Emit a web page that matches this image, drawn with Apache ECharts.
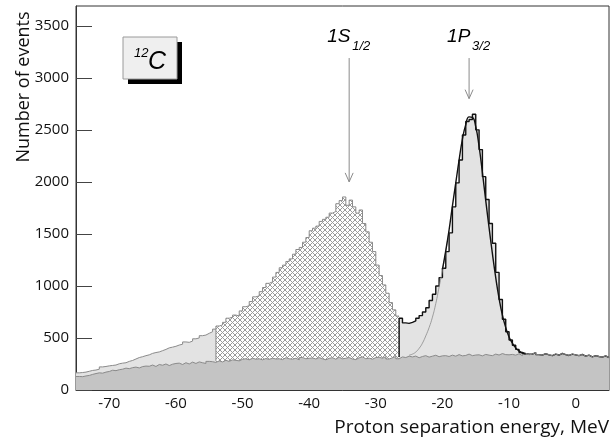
<!DOCTYPE html>
<html>
<head>
<meta charset="utf-8">
<script src="https://cdn.jsdelivr.net/npm/echarts@6.0.0/dist/echarts.min.js"></script>
<style>html,body{margin:0;padding:0;background:#fff}</style>
</head>
<body>
<div id="chart" style="width:612px;height:441px;"></div>
<script>
// histogram bins: 0.5 MeV wide, first bin starts at -75 MeV
const binLow = -75;
const binWidth = 0.5;

// background (dark grey), 160 bins from -75 to 5
const bgCounts = [
  130,128,135,140,150,158,165,162,172,178,
  190,186,195,200,210,205,215,220,212,225,
  230,228,240,226,245,238,250,235,248,255,
  258,245,262,250,268,255,270,262,255,275,
  272,265,280,270,285,275,290,285,280,295,
  300,290,305,296,300,290,302,295,305,298,
  300,292,310,300,296,305,290,312,300,305,
  308,298,312,300,290,305,310,296,315,300,
  305,312,298,292,310,318,300,306,296,312,
  315,305,320,298,310,322,300,318,312,325,
  318,326,310,322,330,316,325,334,320,328,
  330,322,335,325,340,328,332,345,330,336,
  338,328,342,335,330,345,336,350,340,338,
  342,335,348,330,352,338,345,360,340,335,
  350,338,330,345,336,352,340,332,345,338,
  330,342,325,335,318,330,322,316,328,312
];

// total spectrum, left part -75 .. -54 (light grey)
const totalLeft = [
  165,168,172,180,188,192,200,222,226,232,
  236,240,252,258,262,275,284,298,312,320,
  330,338,352,360,366,378,390,405,412,420,
  432,440,462,458,470,492,500,522,528,545,
  560,585
];
// total spectrum, -54 .. -26.5 (hatched, 1S region)
const totalMid = [
  615,625,650,690,700,720,712,760,800,810,
  850,895,905,945,985,1025,1040,1085,1130,1175,
  1200,1235,1260,1305,1350,1370,1420,1465,1530,1555,
  1575,1620,1640,1660,1700,1715,1790,1820,1855,1775,
  1825,1760,1700,1730,1600,1520,1420,1330,1200,1100,
  1010,930,840,770,710
];
// total spectrum, -26.5 .. 5 (light grey, black outline)
const totalRight = [
  690,645,640,650,665,690,715,750,790,860,
  920,1000,1080,1170,1330,1510,1760,1990,2210,2450,
  2580,2600,2650,2500,2310,2050,1830,1600,1410,1130,
  870,680,560,480,430,390,360,350,345,
  345,360,340,335,
  350,338,330,345,336,352,340,332,345,338,
  330,342,325,335,318,330,322,316,328,312
];

// fit curves
const p32FitE = [-25,-24.5,-24,-23.5,-23,-22.5,-22,-21.5,-21,-20.5,-20,-19.5,-19];
const p32Fit = [335,345,365,400,450,520,600,700,830,990,1150,1330,1530];
const sumFitE = [-20,-19.5,-19,-18.5,-18,-17.5,-17,-16.5,-16,-15.5,-15,-14.5,-14,-13.5,-13,
  -12.5,-12,-11.5,-11,-10.5,-10,-9.5,-9,-8.5,-8,-7.5];
const sumFit = [1160,1340,1540,1770,1990,2210,2410,2550,2625,2620,2530,2340,2090,1820,1560,
  1310,1080,880,720,600,510,450,405,375,355,345];

// shell labels and arrows
const shellNames = ['1S', '1P'];
const shellSubs = ['1/2', '3/2'];
const shellE = [-34, -16];
const arrowTop = [3190, 3190];
const arrowTip = [2000, 2800];

const yTicks = [0, 500, 1000, 1500, 2000, 2500, 3000, 3500];

function steps(counts, firstBin) {
  const pts = counts.map((v, i) => [binLow + (firstBin + i) * binWidth, v]);
  pts.push([binLow + (firstBin + counts.length) * binWidth, counts[counts.length - 1]]);
  return pts;
}

// cross-hatch tile
const tile = document.createElement('canvas');
tile.width = 5; tile.height = 5;
const tc = tile.getContext('2d');
tc.fillStyle = '#ffffff';
tc.fillRect(0, 0, 5, 5);
tc.fillStyle = '#9a9a9a';
for (let i = 0; i < 5; i++) {
  tc.fillRect(i, i, 1, 1);
  tc.fillRect(4 - i, i, 1, 1);
}

const leftStart = 0;
const midStart = totalLeft.length;
const rightStart = midStart + totalMid.length;

const leftData = steps(totalLeft, leftStart);
// start each region with a vertical edge up from the background level
const midData = [[binLow + midStart * binWidth, bgCounts[midStart]]].concat(steps(totalMid, midStart));
const rightData = [[binLow + rightStart * binWidth, bgCounts[rightStart]]].concat(steps(totalRight, rightStart));

const fontMain = '"Open Sans", "DejaVu Sans", sans-serif';

let myChart = echarts.init(document.getElementById('chart'));

var option = {
  animation: false,
  grid: {
    left: 76, right: 2, top: 6, bottom: 51,
    show: true, borderColor: '#333', borderWidth: 1
  },
  xAxis: {
    type: 'value',
    min: -75, max: 5,
    splitNumber: 8,
    splitLine: { show: false },
    axisLine: { lineStyle: { color: '#333' } },
    axisTick: { show: false },
    axisLabel: {
      showMinLabel: false, showMaxLabel: false,
      color: '#111', fontSize: 15, fontFamily: fontMain, margin: 6
    },
    name: 'Proton separation energy, MeV',
    nameLocation: 'end',
    nameGap: 0,
    nameTextStyle: {
      color: '#111', fontSize: 19, fontFamily: fontMain,
      align: 'right', verticalAlign: 'top', padding: [28, 0, 0, 0]
    }
  },
  yAxis: {
    type: 'value',
    min: 0, max: 3690, interval: 500,
    splitLine: { show: false },
    axisLine: { show: true, onZero: false, lineStyle: { color: '#333' } },
    axisTick: { show: true, inside: true, length: 16, lineStyle: { color: '#444' } },
    axisLabel: {
      showMaxLabel: false,
      color: '#111', fontSize: 15, fontFamily: fontMain, margin: 7,
      formatter: v => (yTicks.indexOf(v) >= 0 ? String(v) : '')
    }
  },
  graphic: [
    {
      type: 'text', x: 24, y: 87, rotation: Math.PI / 2,
      style: { text: 'Number of events', font: '18px ' + fontMain, fill: '#111',
        align: 'center', verticalAlign: 'middle' }
    },
    { type: 'rect', shape: { x: 128, y: 42, width: 54, height: 42 }, style: { fill: '#000' } },
    { type: 'rect', shape: { x: 123, y: 37, width: 54, height: 42 },
      style: { fill: '#efefef', stroke: '#9a9a9a', lineWidth: 1 } },
    { type: 'text', x: 134, y: 53, style: { text: '12', font: 'italic 13px "Liberation Sans", Arial',
      fill: '#000', align: 'left', verticalAlign: 'middle' } },
    { type: 'text', x: 148, y: 62, style: { text: 'C', font: 'italic 25px "Liberation Sans", Arial',
      fill: '#000', align: 'left', verticalAlign: 'middle' } }
  ],
  series: [
    {
      type: 'line', step: 'end', data: leftData, showSymbol: false, silent: true,
      lineStyle: { color: '#8a8a8a', width: 1 },
      areaStyle: { color: '#e3e3e3', opacity: 1 }
    },
    {
      type: 'line', step: 'end', data: midData, showSymbol: false, silent: true,
      lineStyle: { color: '#8a8a8a', width: 1 },
      areaStyle: { color: { image: tile, repeat: 'repeat' }, opacity: 1 }
    },
    {
      type: 'line', step: 'end', data: rightData, showSymbol: false, silent: true,
      lineStyle: { color: '#111', width: 1.4 },
      areaStyle: { color: '#e3e3e3', opacity: 1 }
    },
    {
      type: 'line', step: 'end', data: steps(bgCounts, 0), showSymbol: false, silent: true,
      lineStyle: { color: '#8a8a8a', width: 1 },
      areaStyle: { color: '#c4c4c4', opacity: 1 }
    },
    {
      type: 'line', smooth: true, showSymbol: false, silent: true,
      data: p32FitE.map((e, i) => [e, p32Fit[i]]),
      lineStyle: { color: '#8a8a8a', width: 0.8 }
    },
    {
      type: 'line', smooth: true, showSymbol: false, silent: true,
      data: sumFitE.map((e, i) => [e, sumFit[i]]),
      lineStyle: { color: '#111', width: 1.4 }
    },
    {
      type: 'custom', silent: true,
      data: shellE.map((e, i) => [e, arrowTop[i], arrowTip[i], i]),
      renderItem: function (params, api) {
        const top = api.coord([api.value(0), api.value(1)]);
        const tip = api.coord([api.value(0), api.value(2)]);
        const k = api.value(3);
        return {
          type: 'group',
          children: [
            { type: 'line', shape: { x1: top[0], y1: top[1], x2: tip[0], y2: tip[1] },
              style: { stroke: '#8a8a8a', lineWidth: 1 } },
            { type: 'polyline', shape: { points: [[tip[0] - 4, tip[1] - 9], [tip[0], tip[1]], [tip[0] + 4, tip[1] - 9]] },
              style: { stroke: '#8a8a8a', lineWidth: 1, fill: null } },
            { type: 'text', x: top[0] - 22, y: top[1] - 12,
              style: { text: shellNames[k], font: 'italic 19px "Liberation Sans", Arial', fill: '#000',
                align: 'left', verticalAlign: 'bottom' } },
            { type: 'text', x: top[0] + 3, y: top[1] - 5,
              style: { text: shellSubs[k], font: 'italic 13px "Liberation Sans", Arial', fill: '#000',
                align: 'left', verticalAlign: 'bottom' } }
          ]
        };
      }
    }
  ]
};

myChart.setOption(option);
window.addEventListener('resize', () => {
  myChart.resize();
});
</script>
</body>
</html>
